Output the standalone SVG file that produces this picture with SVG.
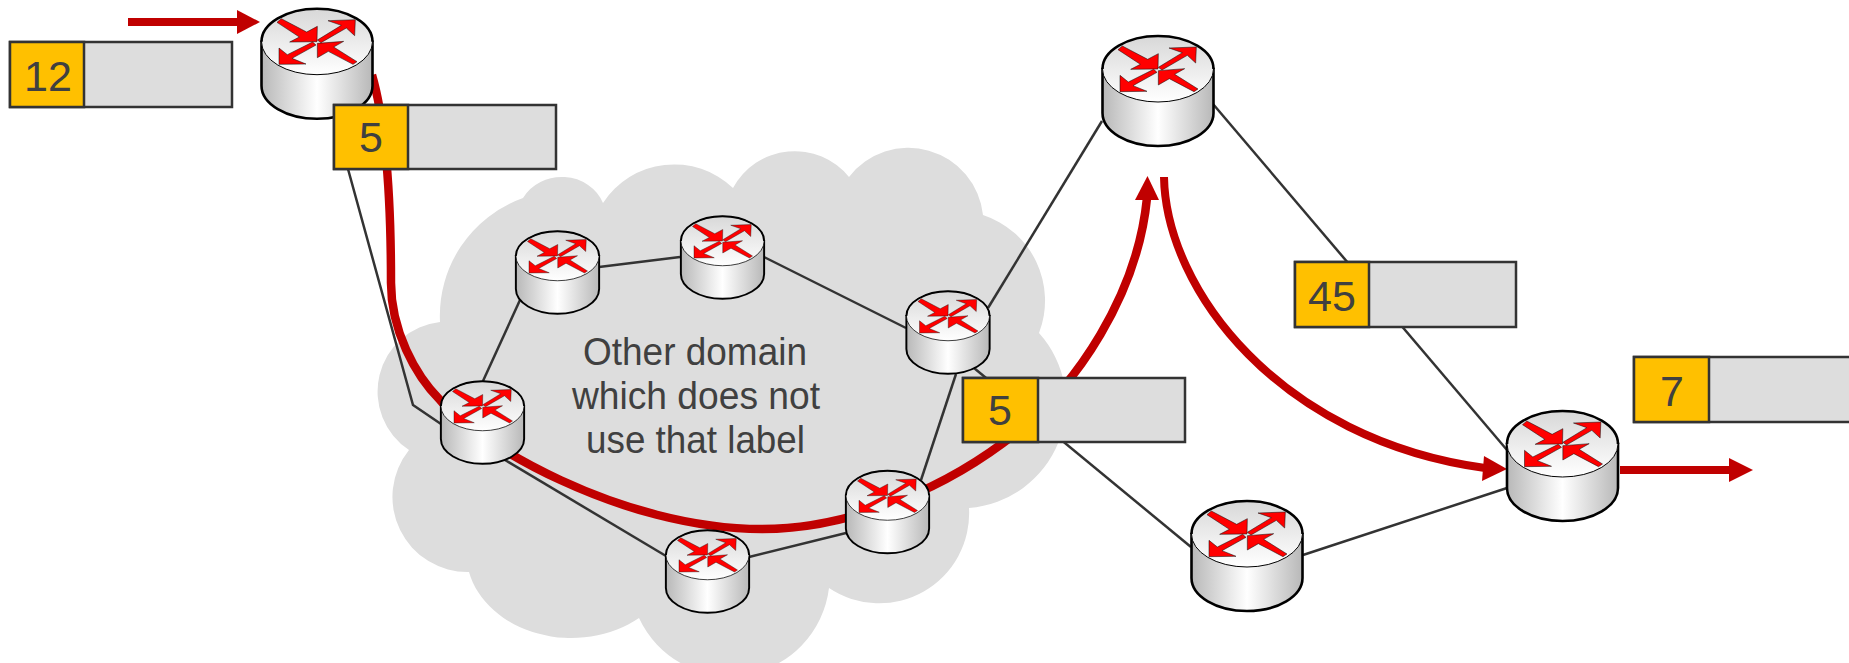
<svg xmlns="http://www.w3.org/2000/svg" width="1849" height="663" viewBox="0 0 1849 663">
<style>
.lnk{fill:none;stroke:#333;stroke-width:2.5}
.red{fill:none;stroke:#c00000;stroke-width:8}
.main{stroke-width:8.500}
.head{fill:#c00000}
.lab{fill:#ddd;stroke:#333;stroke-width:2.5}
.yel{fill:#ffc000;stroke:#333;stroke-width:2.5}
.t{font-family:"Liberation Sans",Arial,sans-serif;fill:#404040;text-anchor:middle}
.num{font-size:43px}
.cl{font-size:38px}
.body{fill:url(#side);stroke:#000;stroke-width:2.6}
.top{fill:url(#tp);stroke:#000;stroke-width:1}
.outl{fill:none;stroke:#000;stroke-width:2.6}
.arr{fill:#f00;stroke:#111;stroke-width:1.6}
</style>
<defs>
<linearGradient id="side" x1="0" x2="1" y1="0" y2="0"><stop offset="0" stop-color="#b8b8b8"/><stop offset=".5" stop-color="#fff"/><stop offset="1" stop-color="#b8b8b8"/></linearGradient>
<linearGradient id="tp" x1="0" x2="0" y1="0" y2="1"><stop offset="0" stop-color="#d8d8d8"/><stop offset="1" stop-color="#fff"/></linearGradient>
<g id="router">
<path class="body" d="M-55.5 0V44A55.5 33 0 0 0 55.5 44V0Z"/>
<ellipse class="top" cx="0" cy="0" rx="55.5" ry="33"/>
<path class="outl" d="M-55.5 0A55.5 33 0 0 1 55.5 0"/>
<g transform="scale(.3333) translate(-231 -125)">
<path class="arr" d="M124 56L200 96L232 79L231 125L149 126L178 111L111 67Z"/>
<path class="arr" d="M346 59L344 107L319 84L243 128L232 120L304 76L264 62Z"/>
<path class="arr" d="M117 193L117 144L142 164L218 126L228 135L156 175L198 192Z"/>
<path class="arr" d="M232 130L311 124L281 141L351 185L339 193L265 154L232 173Z"/>
</g>
</g>
</defs>
<rect width="1849" height="663" fill="#fff"/>
<g id="cloud">
<path fill="#ddd" d="M440 322A125 125 0 0 1 523 198A44 40 0 0 1 603 203A85 85 0 0 1 733 188A70 70 0 0 1 849 177A75 75 0 0 1 983 215A90 90 0 0 1 1039 333A105 105 0 0 1 969 508A90 90 0 0 1 829 588A100 100 0 0 1 639 618A105 85 0 0 1 469 572A75 75 0 0 1 409 450A70 70 0 0 1 440 322Z"/>
<text class="t cl" x="695" y="365" textLength="224" lengthAdjust="spacingAndGlyphs">Other domain</text>
<text class="t cl" x="696" y="409" textLength="248" lengthAdjust="spacingAndGlyphs">which does not</text>
<text class="t cl" x="695.5" y="453" textLength="219" lengthAdjust="spacingAndGlyphs">use that label</text>
</g>
<g id="connectors">
<path class="lnk" d="M348 169L413 405L441 424"/>
<path class="lnk" d="M520 300L483 381"/>
<path class="lnk" d="M599 267L680 257"/>
<path class="lnk" d="M764 257L906 328"/>
<path class="lnk" d="M988 308L1102 121"/>
<path class="lnk" d="M1213 104L1507 450"/>
<path class="lnk" d="M974 368L1191 547"/>
<path class="lnk" d="M956 374L921 480"/>
<path class="lnk" d="M846 533L749 557"/>
<path class="lnk" d="M505 460L666 556"/>
<path class="lnk" d="M1303 555L1507 488"/>
<path class="red main" d="M372 75C385 120 391 190 391 283C391 330 415 375 440 400C475 442 620 529 762 529C840 529 930 497 1003 443C1080 388 1138 290 1147 198"/>
<path class="head" d="M1147.500 176L1159 200L1135 200Z"/>
<path class="red" d="M1164 177C1166 290 1280 440 1485 468"/>
<path class="head" d="M1507 469L1482 481L1484 456Z"/>
<path class="red" d="M128 22H238"/>
<path class="head" d="M260 22L237 10V34Z"/>
<path class="red" d="M1620 470H1732"/>
<path class="head" d="M1753 470L1729 458V482Z"/>
</g>
<g id="router-1"><use href="#router" transform="translate(317 41.7)"/></g>
<g id="router-2"><use href="#router" transform="translate(1158 69)"/></g>
<g id="router-3"><use href="#router" transform="translate(1247 534)"/></g>
<g id="router-4"><use href="#router" transform="translate(1562.5 444)"/></g>
<g id="router-a"><use href="#router" transform="translate(557.500 256) scale(.75)"/></g>
<g id="router-b"><use href="#router" transform="translate(722.500 241) scale(.75)"/></g>
<g id="router-c"><use href="#router" transform="translate(948 316) scale(.75)"/></g>
<g id="router-d"><use href="#router" transform="translate(482.500 406) scale(.75)"/></g>
<g id="router-e"><use href="#router" transform="translate(887.500 495.500) scale(.75)"/></g>
<g id="router-f"><use href="#router" transform="translate(707.500 555) scale(.75)"/></g>
<g id="label-12"><rect class="lab" x="10" y="42" width="222" height="65"/><rect class="yel" x="10" y="42" width="74" height="65"/><text class="t num" x="48" y="91">12</text></g>
<g id="label-5a"><rect class="lab" x="334" y="105" width="222" height="64"/><rect class="yel" x="334" y="105" width="74" height="64"/><text class="t num" x="371" y="152">5</text></g>
<g id="label-5b"><rect class="lab" x="963" y="378" width="222" height="64"/><rect class="yel" x="963" y="378" width="75" height="64"/><text class="t num" x="1000" y="425">5</text></g>
<g id="label-45"><rect class="lab" x="1295" y="262" width="221" height="65"/><rect class="yel" x="1295" y="262" width="74" height="65"/><text class="t num" x="1332" y="311">45</text></g>
<g id="label-7"><rect class="lab" x="1634" y="357" width="222" height="65"/><rect class="yel" x="1634" y="357" width="75" height="65"/><text class="t num" x="1672" y="406">7</text></g>
</svg>
